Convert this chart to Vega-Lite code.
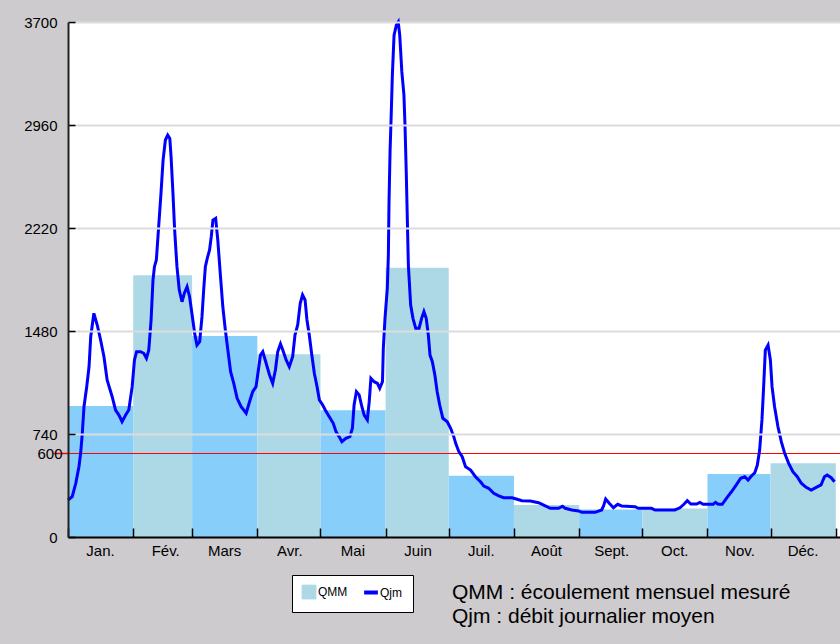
{
  "$schema": "https://vega.github.io/schema/vega-lite/v6.json",
  "width": 772,
  "height": 515,
  "autosize": "none",
  "padding": {"left": 68, "top": 22, "right": 0, "bottom": 107},
  "background": "#cdcbce",
  "config": {"view": {"fill": "white", "stroke": null}},
  "title": {
    "text": ["QMM : écoulement mensuel mesuré", "Qjm : débit journalier moyen"],
    "orient": "bottom",
    "anchor": "start",
    "frame": "group",
    "dx": 384,
    "offset": -31,
    "font": "Liberation Sans",
    "fontSize": 21,
    "fontWeight": "normal",
    "lineHeight": 24,
    "color": "#000000"
  },
  "datasets": {
    "mois": [
      {"n": 1, "mois": "Jan.", "debut": 0, "fin": 31, "qmm": 941},
      {"n": 2, "mois": "Fév.", "debut": 31, "fin": 59, "qmm": 1880},
      {"n": 3, "mois": "Mars", "debut": 59, "fin": 90, "qmm": 1444},
      {"n": 4, "mois": "Avr.", "debut": 90, "fin": 120, "qmm": 1313},
      {"n": 5, "mois": "Mai", "debut": 120, "fin": 151, "qmm": 910},
      {"n": 6, "mois": "Juin", "debut": 151, "fin": 181, "qmm": 1935},
      {"n": 7, "mois": "Juil.", "debut": 181, "fin": 212, "qmm": 440},
      {"n": 8, "mois": "Août", "debut": 212, "fin": 243, "qmm": 230},
      {"n": 9, "mois": "Sept.", "debut": 243, "fin": 273, "qmm": 197},
      {"n": 10, "mois": "Oct.", "debut": 273, "fin": 304, "qmm": 205},
      {"n": 11, "mois": "Nov.", "debut": 304, "fin": 334, "qmm": 453},
      {"n": 12, "mois": "Déc.", "debut": 334, "fin": 365, "qmm": 530}
    ],
    "seuil": [{"q": 600}],
    "qjm": [
      {"j": 0, "q": 266}, {"j": 2.0, "q": 290}, {"j": 3.7, "q": 386}, {"j": 5.2, "q": 505},
      {"j": 6.0, "q": 601}, {"j": 6.8, "q": 745}, {"j": 7.6, "q": 936}, {"j": 8.9, "q": 1080},
      {"j": 10.0, "q": 1223}, {"j": 10.8, "q": 1439}, {"j": 12.3, "q": 1607}, {"j": 13.9, "q": 1523},
      {"j": 15.5, "q": 1415}, {"j": 17.1, "q": 1295}, {"j": 18.6, "q": 1128}, {"j": 21.0, "q": 1008},
      {"j": 22.6, "q": 912}, {"j": 24.2, "q": 876}, {"j": 25.7, "q": 828}, {"j": 27.4, "q": 876},
      {"j": 28.9, "q": 912}, {"j": 30.5, "q": 1080}, {"j": 31.6, "q": 1272}, {"j": 32.6, "q": 1331},
      {"j": 34.5, "q": 1331}, {"j": 36.0, "q": 1320}, {"j": 37.3, "q": 1284}, {"j": 38.4, "q": 1343},
      {"j": 39.5, "q": 1559}, {"j": 40.4, "q": 1846}, {"j": 41.1, "q": 1942}, {"j": 42.0, "q": 1990},
      {"j": 43.1, "q": 2229}, {"j": 44.2, "q": 2469}, {"j": 45.2, "q": 2708}, {"j": 46.3, "q": 2852},
      {"j": 47.4, "q": 2888}, {"j": 48.4, "q": 2864}, {"j": 49.0, "q": 2732}, {"j": 49.9, "q": 2469},
      {"j": 50.7, "q": 2205}, {"j": 51.8, "q": 1942}, {"j": 52.9, "q": 1774}, {"j": 54.2, "q": 1690},
      {"j": 55.3, "q": 1751}, {"j": 56.6, "q": 1798}, {"j": 57.8, "q": 1726}, {"j": 58.9, "q": 1607},
      {"j": 60.2, "q": 1463}, {"j": 61.3, "q": 1379}, {"j": 62.6, "q": 1403}, {"j": 63.7, "q": 1583},
      {"j": 64.6, "q": 1798}, {"j": 65.3, "q": 1942}, {"j": 66.2, "q": 2002}, {"j": 67.3, "q": 2062},
      {"j": 68.1, "q": 2157}, {"j": 68.9, "q": 2277}, {"j": 70.2, "q": 2290}, {"j": 71.2, "q": 2134},
      {"j": 72.5, "q": 1870}, {"j": 73.6, "q": 1654}, {"j": 74.8, "q": 1487}, {"j": 76.0, "q": 1343},
      {"j": 77.3, "q": 1188}, {"j": 78.8, "q": 1104}, {"j": 80.4, "q": 996}, {"j": 82.3, "q": 936},
      {"j": 84.7, "q": 889}, {"j": 86.3, "q": 972}, {"j": 87.8, "q": 1044}, {"j": 89.4, "q": 1080},
      {"j": 90.5, "q": 1200}, {"j": 91.5, "q": 1307}, {"j": 92.6, "q": 1331}, {"j": 94.2, "q": 1248},
      {"j": 95.8, "q": 1164}, {"j": 97.3, "q": 1104}, {"j": 98.6, "q": 1200}, {"j": 99.7, "q": 1331},
      {"j": 101.0, "q": 1387}, {"j": 102.1, "q": 1343}, {"j": 103.7, "q": 1272}, {"j": 105.2, "q": 1223},
      {"j": 106.8, "q": 1295}, {"j": 107.9, "q": 1451}, {"j": 109.2, "q": 1523}, {"j": 110.4, "q": 1679},
      {"j": 111.5, "q": 1739}, {"j": 112.7, "q": 1703}, {"j": 113.6, "q": 1559}, {"j": 114.7, "q": 1451},
      {"j": 115.8, "q": 1320}, {"j": 117.1, "q": 1176}, {"j": 118.4, "q": 1080}, {"j": 119.5, "q": 984},
      {"j": 121.0, "q": 950}, {"j": 122.3, "q": 912}, {"j": 124.2, "q": 864}, {"j": 126.1, "q": 817},
      {"j": 127.4, "q": 757}, {"j": 128.9, "q": 721}, {"j": 130.2, "q": 685}, {"j": 132.1, "q": 709},
      {"j": 134.0, "q": 721}, {"j": 135.2, "q": 781}, {"j": 136.0, "q": 948}, {"j": 137.1, "q": 1044},
      {"j": 138.4, "q": 1020}, {"j": 139.7, "q": 936}, {"j": 140.8, "q": 876}, {"j": 142.3, "q": 841},
      {"j": 143.2, "q": 972}, {"j": 144.0, "q": 1140}, {"j": 145.5, "q": 1116}, {"j": 147.1, "q": 1104},
      {"j": 148.2, "q": 1068}, {"j": 149.5, "q": 1116}, {"j": 149.9, "q": 1356}, {"j": 150.7, "q": 1571},
      {"j": 151.8, "q": 1787}, {"j": 152.3, "q": 2026}, {"j": 152.6, "q": 2397}, {"j": 153.1, "q": 2768},
      {"j": 153.6, "q": 3008}, {"j": 154.2, "q": 3319}, {"j": 155.0, "q": 3606}, {"j": 156.1, "q": 3678},
      {"j": 157.0, "q": 3700}, {"j": 157.7, "q": 3606}, {"j": 158.7, "q": 3343}, {"j": 159.7, "q": 3175},
      {"j": 160.2, "q": 2960}, {"j": 160.8, "q": 2624}, {"j": 161.3, "q": 2290}, {"j": 161.8, "q": 1954},
      {"j": 162.9, "q": 1667}, {"j": 164.0, "q": 1571}, {"j": 165.3, "q": 1499}, {"j": 166.9, "q": 1499},
      {"j": 168.1, "q": 1571}, {"j": 169.2, "q": 1619}, {"j": 170.3, "q": 1571}, {"j": 171.3, "q": 1451},
      {"j": 172.1, "q": 1307}, {"j": 173.2, "q": 1259}, {"j": 174.4, "q": 1164}, {"j": 175.5, "q": 1044},
      {"j": 176.7, "q": 948}, {"j": 178.2, "q": 853}, {"j": 180.3, "q": 828}, {"j": 181.9, "q": 781},
      {"j": 183.4, "q": 721}, {"j": 184.3, "q": 673}, {"j": 185.8, "q": 613}, {"j": 187.4, "q": 577},
      {"j": 189.0, "q": 505}, {"j": 191.4, "q": 481}, {"j": 193.7, "q": 433}, {"j": 196.1, "q": 397},
      {"j": 197.7, "q": 366}, {"j": 200.0, "q": 350}, {"j": 202.4, "q": 314}, {"j": 204.8, "q": 295},
      {"j": 207.1, "q": 282}, {"j": 211.1, "q": 282}, {"j": 213.5, "q": 271}, {"j": 215.8, "q": 261},
      {"j": 219.8, "q": 259}, {"j": 223.7, "q": 246}, {"j": 226.9, "q": 223}, {"j": 229.3, "q": 206},
      {"j": 233.2, "q": 206}, {"j": 235.1, "q": 221}, {"j": 236.4, "q": 206}, {"j": 239.5, "q": 194},
      {"j": 242.7, "q": 187}, {"j": 244.3, "q": 177}, {"j": 250.6, "q": 177}, {"j": 253.7, "q": 194},
      {"j": 254.6, "q": 223}, {"j": 255.6, "q": 273}, {"j": 257.3, "q": 242}, {"j": 259.3, "q": 210},
      {"j": 261.3, "q": 235}, {"j": 263.2, "q": 223}, {"j": 269.6, "q": 218}, {"j": 271.1, "q": 206},
      {"j": 277.4, "q": 206}, {"j": 279.1, "q": 194}, {"j": 288.5, "q": 194}, {"j": 290.9, "q": 210},
      {"j": 292.8, "q": 235}, {"j": 294.4, "q": 261}, {"j": 296.1, "q": 237}, {"j": 298.8, "q": 237},
      {"j": 300.4, "q": 249}, {"j": 301.9, "q": 235}, {"j": 306.7, "q": 235}, {"j": 307.8, "q": 249},
      {"j": 309.1, "q": 235}, {"j": 311.0, "q": 235}, {"j": 313.0, "q": 278}, {"j": 315.4, "q": 325},
      {"j": 317.7, "q": 374}, {"j": 319.8, "q": 422}, {"j": 321.7, "q": 433}, {"j": 323.3, "q": 409},
      {"j": 324.9, "q": 438}, {"j": 326.5, "q": 462}, {"j": 327.7, "q": 517}, {"j": 328.8, "q": 625},
      {"j": 329.9, "q": 841}, {"j": 330.7, "q": 1080}, {"j": 331.5, "q": 1343}, {"j": 332.8, "q": 1379},
      {"j": 333.9, "q": 1272}, {"j": 334.7, "q": 1080}, {"j": 335.9, "q": 936}, {"j": 337.5, "q": 792},
      {"j": 339.1, "q": 685}, {"j": 340.7, "q": 601}, {"j": 342.6, "q": 529}, {"j": 344.6, "q": 469},
      {"j": 346.7, "q": 433}, {"j": 348.6, "q": 386}, {"j": 350.9, "q": 357}, {"j": 353.3, "q": 338},
      {"j": 355.7, "q": 357}, {"j": 358.0, "q": 374}, {"j": 359.6, "q": 433}, {"j": 360.9, "q": 445},
      {"j": 362.8, "q": 426}, {"j": 364.4, "q": 397}
    ]
  },
  "layer": [
    {
      "data": {"name": "mois"},
      "mark": {"type": "bar"},
      "encoding": {
        "x": {
          "field": "debut",
          "type": "quantitative",
          "scale": {"domain": [0, 367], "nice": false, "zero": false},
          "axis": {
            "title": null,
            "grid": false,
            "zindex": 1,
            "values": [0, 31, 59, 90, 120, 151, 181, 212, 243, 273, 304, 334, 365],
            "labelExpr": "['Jan.','Fév.','Mars','Avr.','Mai','Juin','Juil.','Août','Sept.','Oct.','Nov.','Déc.',''][indexof([0,31,59,90,120,151,181,212,243,273,304,334,365], datum.value)]",
            "labelOffset": 32,
            "labelFlush": false,
            "labelOverlap": false,
            "labelFont": "Liberation Sans",
            "labelFontSize": 15,
            "labelColor": "#000000",
            "labelPadding": 15,
            "tickSize": -9,
            "tickColor": "#000000",
            "tickWidth": 1.5,
            "domainColor": "#000000",
            "domainWidth": 2
          }
        },
        "x2": {"field": "fin"},
        "y": {
          "field": "qmm",
          "type": "quantitative",
          "scale": {"domain": [0, 3700], "nice": false},
          "axis": {
            "title": null,
            "format": "d",
            "zindex": 1,
            "values": [0, 600, 740, 1480, 2220, 2960, 3700],
            "labelOverlap": false,
            "grid": true,
            "gridColor": {"condition": {"test": "datum.value === 0 || datum.value === 600", "value": "transparent"}, "value": "#dcdcdc"},
            "gridWidth": 2,
            "tickColor": {"condition": {"test": "datum.value === 600", "value": "#ff0000"}, "value": "#000000"},
            "tickSize": {"condition": {"test": "datum.value === 600", "value": 15}, "value": -7},
            "tickWidth": 1.5,
            "labelFont": "Liberation Sans",
            "labelFontSize": 15,
            "labelColor": "#000000",
            "labelPadding": {"condition": {"test": "datum.value === 600", "value": -9}, "value": 18},
            "domainColor": "#222222",
            "domainWidth": 2
          }
        },
        "y2": {"datum": 0},
        "color": {"condition": {"test": "datum.n % 2 === 1", "value": "#87cefa"}, "value": "#add8e6"}
      }
    },
    {
      "data": {"name": "seuil"},
      "mark": {"type": "rule", "color": "#ff0000", "strokeWidth": 1},
      "encoding": {"y": {"field": "q", "type": "quantitative"}}
    },
    {
      "data": {"name": "qjm"},
      "mark": {"type": "line", "strokeWidth": 3},
      "encoding": {
        "x": {"field": "j", "type": "quantitative"},
        "y": {"field": "q", "type": "quantitative"},
        "color": {
          "datum": "Qjm",
          "type": "nominal",
          "scale": {"domain": ["QMM", "Qjm"], "range": ["#add8e6", "#0000ff"]},
          "legend": {
            "orient": "none",
            "legendX": 224,
            "legendY": 553,
            "direction": "horizontal",
            "title": null,
            "fillColor": "#ffffff",
            "strokeColor": "#000000",
            "padding": 11,
            "columnPadding": 8,
            "labelOffset": 3,
            "labelFont": "Liberation Sans",
            "labelFontSize": 12,
            "labelColor": "#000000",
            "symbolSize": 190,
            "encode": {
              "symbols": {
                "update": {
                  "shape": {"signal": "datum.value === 'QMM' ? 'square' : 'stroke'"},
                  "fill": {"signal": "datum.value === 'QMM' ? '#add8e6' : 'transparent'"},
                  "stroke": {"signal": "datum.value === 'QMM' ? '#333333' : '#0000ff'"},
                  "strokeWidth": {"signal": "datum.value === 'QMM' ? 1 : 4"}
                }
              }
            }
          }
        }
      }
    }
  ]
}
